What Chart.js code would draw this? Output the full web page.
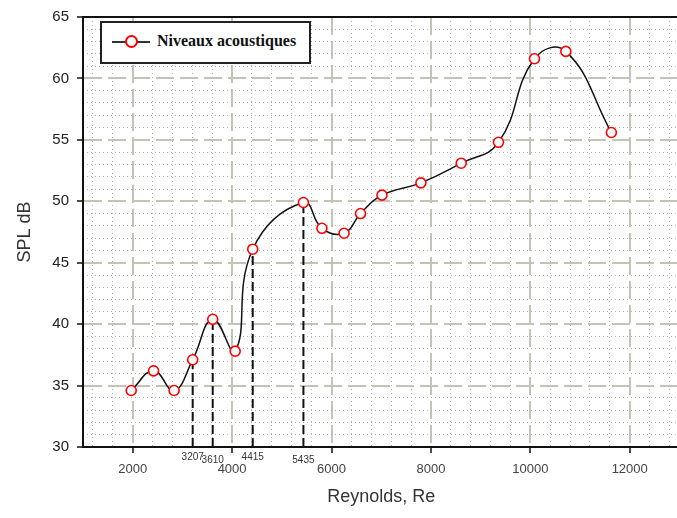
<!DOCTYPE html>
<html>
<head>
<meta charset="utf-8">
<script src="https://cdn.jsdelivr.net/npm/chart.js@4.4.0/dist/chart.umd.min.js"></script>
<style>
  html, body { margin: 0; padding: 0; background: #fff; overflow: hidden; }
  #wrap { position: relative; width: 677px; height: 518px; overflow: hidden; }
  #splChart { position: absolute; left: 0; top: 0; }
  #legend {
    position: absolute; left: 100px; top: 21px; width: 207px; height: 39px;
    border: 2px solid #222; background: #fff;
    font: bold 16px "Liberation Serif", serif; color: #111;
  }
  #legend .ln { position: absolute; left: 10px; top: 18px; width: 38px; height: 2px; background: #333; }
  #legend .pt {
    position: absolute; left: 23px; top: 12px; width: 9px; height: 9px;
    border: 2px solid #ff0000; border-radius: 50%; background: #fff;
  }
  #legend .tx { position: absolute; left: 55px; top: 10px; line-height: 16px; white-space: nowrap; }
</style>
</head>
<body>
<div id="wrap">
  <canvas id="splChart" width="686" height="518"></canvas>
  <div id="legend"><div class="ln"></div><div class="pt"></div><span class="tx">Niveaux acoustiques</span></div>
</div>
<script>
// Données
const reynolds = [1970, 2420, 2833, 3207, 3610, 4062, 4415, 5435, 5807, 6253, 6584, 7016, 7799, 8610, 9360, 10084, 10715, 11631];
const spl = [34.6, 36.2, 34.6, 37.1, 40.4, 37.8, 46.1, 49.9, 47.8, 47.4, 49.0, 50.5, 51.5, 53.1, 54.8, 61.6, 62.2, 55.6];
const markedRe = [3207, 3610, 4415, 5435];
const xTicks = [2000, 4000, 6000, 8000, 10000, 12000];
const yTicks = [30, 35, 40, 45, 50, 55, 60, 65];

const family = "'Liberation Sans', Arial, sans-serif";
const majorGrid = "#c4c4b6";
const minorGrid = "#b2b2a4";

// graduations de l'axe x : principales + valeurs marquées
const allX = [...xTicks, ...markedRe].sort((a, b) => a - b);
const isMajor = (c) => c.tick !== undefined && xTicks.includes(c.tick.value);
// petit décalage vertical des étiquettes marquées (une sur deux plus bas)
const smallFont = (c) => {
  const k = c.tick ? markedRe.indexOf(c.tick.value) : 0;
  return { family, size: 10, lineHeight: k % 2 ? "14px" : "8px" };
};

// Lignes pointillées mineures (papier millimétré)
const xMinor = [];
for (let v = 1200; v < 13000; v += 400) if (v % 2000 !== 0) xMinor.push(v);
const yMinor = [];
for (let v = 31; v < 65; v++) if (v % 5 !== 0) yMinor.push(v);

const mainData = reynolds.map((x, i) => ({ x, y: spl[i] }));

// Traits verticaux vers l'axe
const dropSets = markedRe.map((re) => ({
  data: [{ x: re, y: 30 }, { x: re, y: spl[reynolds.indexOf(re)] }],
  borderColor: "#111",
  borderWidth: 2,
  borderDash: [9, 4],
  pointRadius: 0,
  tension: 0,
  order: 2
}));

new Chart(document.getElementById("splChart"), {
  type: "line",
  data: {
    datasets: [
      {
        label: "Niveaux acoustiques",
        data: mainData,
        borderColor: "#111",
        borderWidth: 1.5,
        tension: 0.45,
        pointRadius: 5,
        pointBorderColor: "#ff0000",
        pointBackgroundColor: "#fff",
        pointBorderWidth: 1.6,
        order: 0
      },
      ...dropSets
    ]
  },
  options: {
    responsive: false,
    animation: false,
    layout: { padding: { top: 15, left: 0, right: 0, bottom: 0 } },
    plugins: { legend: { display: false }, tooltip: { enabled: false } },
    scales: {
      x: {
        type: "linear", position: "bottom", min: 1000, max: 13000, weight: 2,
        afterBuildTicks: s => { s.ticks = allX.map(v => ({ value: v })); },
        afterFit: s => { s.height = 71; },
        grid: {
          color: c => isMajor(c) ? majorGrid : "transparent",
          tickColor: c => isMajor(c) ? "#111" : "transparent",
          lineWidth: 2, tickWidth: 1.5, tickLength: 6
        },
        border: { color: "#111", width: 2, dash: [18, 6] },
        ticks: {
          callback: v => String(v),
          autoSkip: false, maxRotation: 0, padding: 0,
          font: c => isMajor(c) ? { family, size: 13, lineHeight: "32px" } : smallFont(c),
          color: c => isMajor(c) ? "#444" : "#333"
        },
        title: { display: true, text: "Reynolds, Re", font: { family, size: 18 }, color: "#333", padding: { top: 0, bottom: 10 } }
      },
      xm: {
        type: "linear", position: "bottom", min: 1000, max: 13000, weight: 1,
        afterBuildTicks: s => { s.ticks = xMinor.map(v => ({ value: v })); },
        afterFit: s => { s.height = 0; },
        grid: { color: minorGrid, lineWidth: 1, drawTicks: false },
        border: { display: false, dash: [1, 3] },
        ticks: { display: false }
      },
      xTop: {
        type: "linear", position: "top", min: 1000, max: 13000,
        afterFit: s => { s.height = 0; },
        grid: { display: false },
        border: { color: "#111", width: 2 },
        ticks: { display: false }
      },
      y: {
        type: "linear", position: "left", min: 30, max: 65, weight: 1,
        afterBuildTicks: s => { s.ticks = yTicks.map(v => ({ value: v })); },
        afterFit: s => { s.width = 83; },
        grid: { color: majorGrid, lineWidth: 2, tickColor: "#111", tickWidth: 1.5, tickLength: 6 },
        border: { color: "#111", width: 2, dash: [18, 6] },
        ticks: { font: { family, size: 15 }, color: "#222", padding: 8 },
        title: { display: true, text: "SPL dB", font: { family, size: 18 }, color: "#333", padding: { top: 14, bottom: 0 } }
      },
      ym: {
        type: "linear", position: "left", min: 30, max: 65, weight: 0,
        afterBuildTicks: s => { s.ticks = yMinor.map(v => ({ value: v })); },
        afterFit: s => { s.width = 0; },
        grid: { color: minorGrid, lineWidth: 1, drawTicks: false },
        border: { display: false, dash: [1, 3] },
        ticks: { display: false }
      }
    }
  }
});
</script>
</body>
</html>
